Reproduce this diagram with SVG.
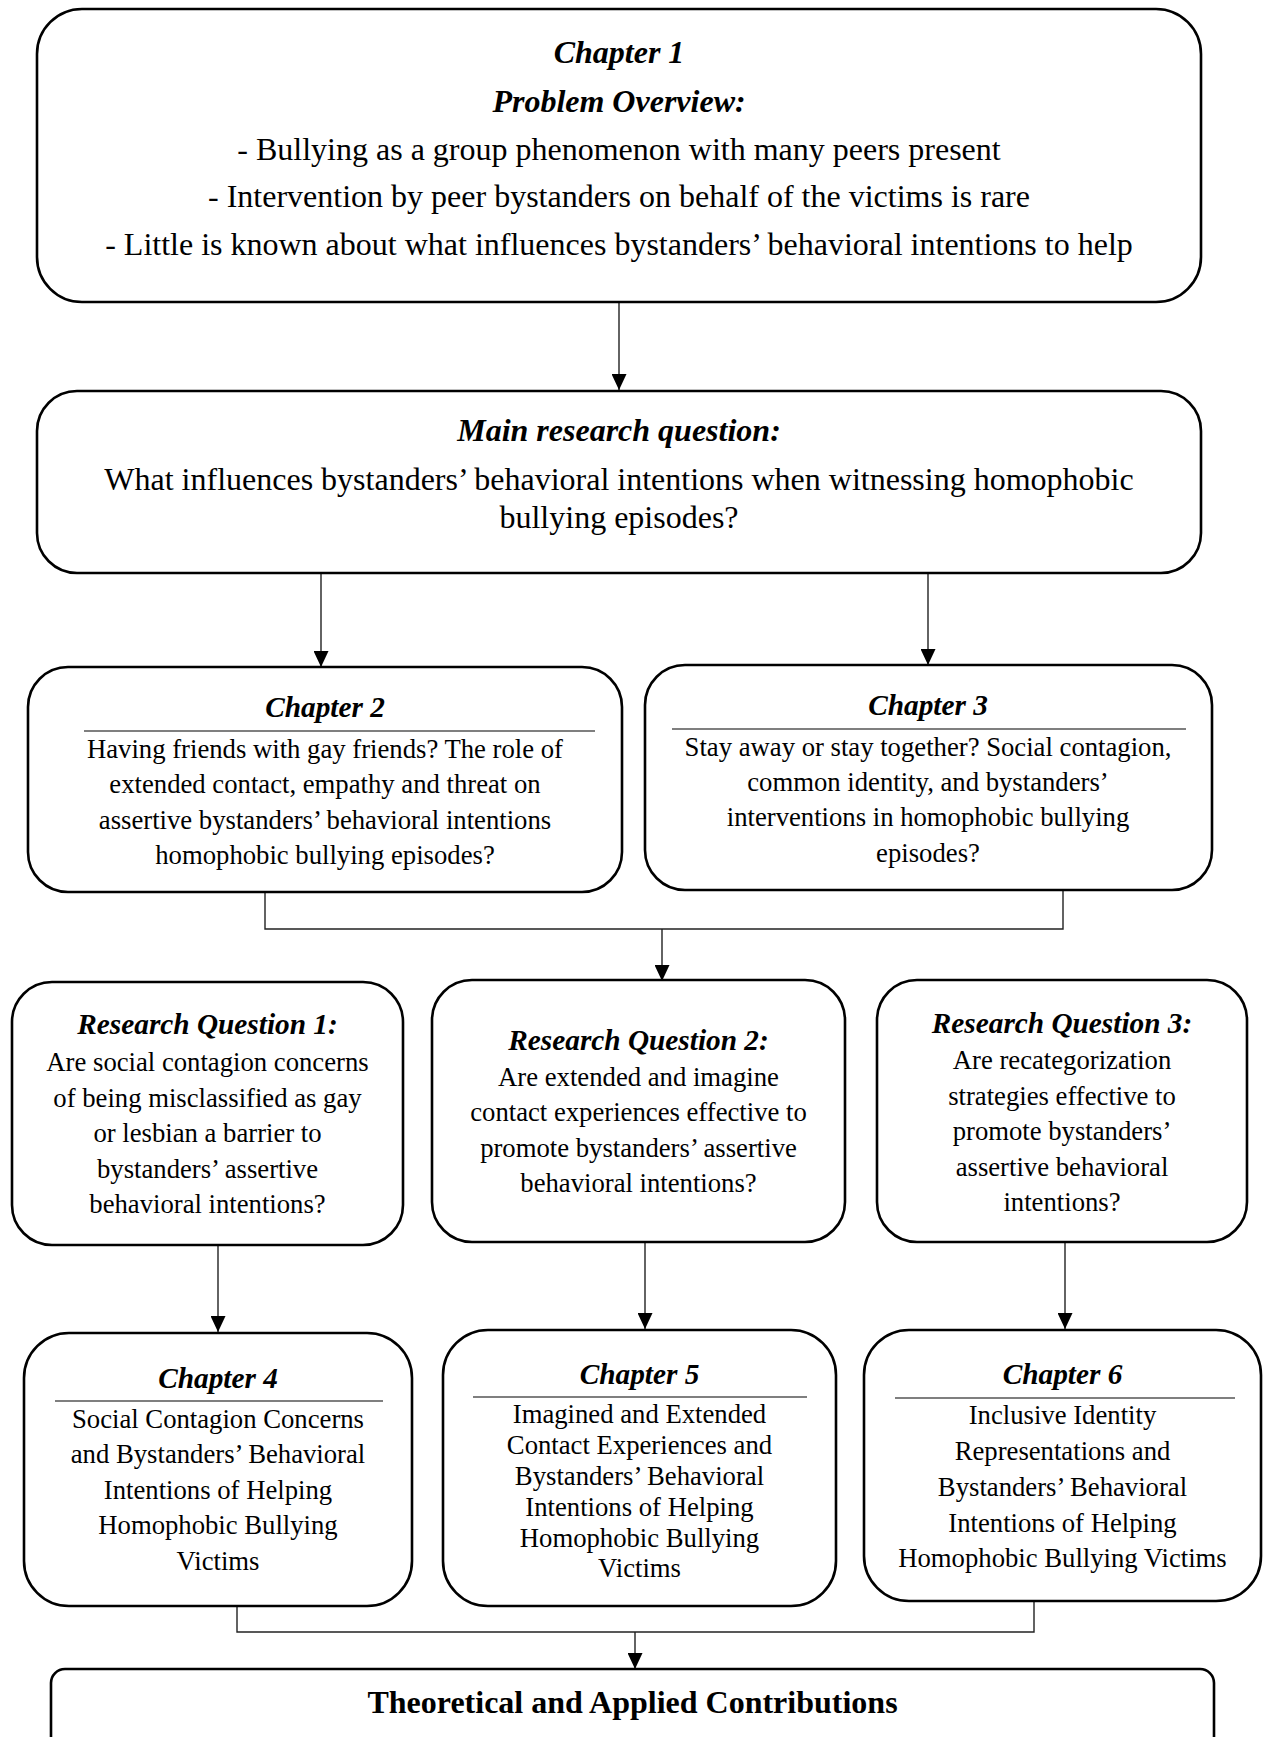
<svg xmlns="http://www.w3.org/2000/svg" width="1266" height="1737" viewBox="0 0 1266 1737">
<defs>
<marker id="arr" markerWidth="16" markerHeight="15" refX="16" refY="7.5" orient="auto" markerUnits="userSpaceOnUse" viewBox="0 0 16 15">
<path d="M0,0 L16,7.5 L0,15 Z" fill="#000"/>
</marker>
<style>
.box{fill:#fff;stroke:#000;stroke-width:2.6}
.sep{stroke:#7f7f7f;stroke-width:2}
.con{fill:none;stroke:#222;stroke-width:1.4}
.arrow{marker-end:url(#arr)}
text{font-family:"Liberation Serif","Times New Roman",serif;fill:#000;text-anchor:middle}
.t28{font-size:32px}
.bi{font-weight:bold;font-style:italic}
.b{font-weight:bold}
.t24{font-size:26.7px}
.h26{font-size:29.3px}
</style>
</defs>
<g id="connectors">
<line class="con arrow" x1="619" y1="302" x2="619" y2="390"/>
<line class="con arrow" x1="321" y1="573" x2="321" y2="667"/>
<line class="con arrow" x1="928" y1="573" x2="928" y2="665"/>
<polyline class="con" points="265,892 265,929 1063,929 1063,889"/>
<line class="con arrow" x1="662" y1="929" x2="662" y2="981"/>
<line class="con arrow" x1="218" y1="1245" x2="218" y2="1332"/>
<line class="con arrow" x1="645" y1="1242" x2="645" y2="1329"/>
<line class="con arrow" x1="1065" y1="1242" x2="1065" y2="1329"/>
<polyline class="con" points="237,1606 237,1632 1034,1632 1034,1601"/>
<line class="con arrow" x1="635" y1="1632" x2="635" y2="1669"/>
</g>
<g id="chapter1">
<rect class="box" x="37" y="9" width="1164" height="293" rx="45" ry="45"/>
<text class="t28 bi" x="619" y="63">Chapter 1</text>
<text class="t28 bi" x="619" y="112">Problem Overview:</text>
<text class="t28" x="619" y="160">- Bullying as a group phenomenon with many peers present</text>
<text class="t28" x="619" y="207">- Intervention by peer bystanders on behalf of the victims is rare</text>
<text class="t28" x="619" y="255">- Little is known about what influences bystanders’ behavioral intentions to help</text>
</g>
<g id="main-question">
<rect class="box" x="37" y="391" width="1164" height="182" rx="40" ry="40"/>
<text class="t28 bi" x="619" y="441">Main research question:</text>
<text class="t28" x="619" y="490">What influences bystanders’ behavioral intentions when witnessing homophobic</text>
<text class="t28" x="619" y="528">bullying episodes?</text>
</g>
<g id="chapter2">
<rect class="box" x="28" y="667" width="594" height="225" rx="40" ry="40"/>
<text class="h26 bi" x="325" y="717">Chapter 2</text>
<line class="sep" x1="84" y1="731" x2="595" y2="731"/>
<text class="t24" x="325" y="758">Having friends with gay friends? The role of</text>
<text class="t24" x="325" y="793">extended contact, empathy and threat on</text>
<text class="t24" x="325" y="829">assertive bystanders’ behavioral intentions</text>
<text class="t24" x="325" y="864">homophobic bullying episodes?</text>
</g>
<g id="chapter3">
<rect class="box" x="645" y="665" width="567" height="225" rx="40" ry="40"/>
<text class="h26 bi" x="928" y="715">Chapter 3</text>
<line class="sep" x1="672" y1="729" x2="1186" y2="729"/>
<text class="t24" x="928" y="756">Stay away or stay together? Social contagion,</text>
<text class="t24" x="928" y="791">common identity, and bystanders’</text>
<text class="t24" x="928" y="826">interventions in homophobic bullying</text>
<text class="t24" x="928" y="862">episodes?</text>
</g>
<g id="rq1">
<rect class="box" x="12" y="982" width="391" height="263" rx="40" ry="40"/>
<text class="h26 bi" x="207.5" y="1034">Research Question 1:</text>
<text class="t24" x="207.5" y="1071">Are social contagion concerns</text>
<text class="t24" x="207.5" y="1107">of being misclassified as gay</text>
<text class="t24" x="207.5" y="1142">or lesbian a barrier to</text>
<text class="t24" x="207.5" y="1178">bystanders’ assertive</text>
<text class="t24" x="207.5" y="1213">behavioral intentions?</text>
</g>
<g id="rq2">
<rect class="box" x="432" y="980" width="413" height="262" rx="40" ry="40"/>
<text class="h26 bi" x="638.5" y="1050">Research Question 2:</text>
<text class="t24" x="638.5" y="1086">Are extended and imagine</text>
<text class="t24" x="638.5" y="1121">contact experiences effective to</text>
<text class="t24" x="638.5" y="1157">promote bystanders’ assertive</text>
<text class="t24" x="638.5" y="1192">behavioral intentions?</text>
</g>
<g id="rq3">
<rect class="box" x="877" y="980" width="370" height="262" rx="40" ry="40"/>
<text class="h26 bi" x="1062" y="1033">Research Question 3:</text>
<text class="t24" x="1062" y="1069">Are recategorization</text>
<text class="t24" x="1062" y="1105">strategies effective to</text>
<text class="t24" x="1062" y="1140">promote bystanders’</text>
<text class="t24" x="1062" y="1176">assertive behavioral</text>
<text class="t24" x="1062" y="1211">intentions?</text>
</g>
<g id="chapter4">
<rect class="box" x="24" y="1333" width="388" height="273" rx="45" ry="45"/>
<text class="h26 bi" x="218" y="1388">Chapter 4</text>
<line class="sep" x1="55" y1="1401" x2="383" y2="1401"/>
<text class="t24" x="218" y="1428">Social Contagion Concerns</text>
<text class="t24" x="218" y="1463">and Bystanders’ Behavioral</text>
<text class="t24" x="218" y="1499">Intentions of Helping</text>
<text class="t24" x="218" y="1534">Homophobic Bullying</text>
<text class="t24" x="218" y="1570">Victims</text>
</g>
<g id="chapter5">
<rect class="box" x="443" y="1330" width="393" height="276" rx="45" ry="45"/>
<text class="h26 bi" x="639.5" y="1384">Chapter 5</text>
<line class="sep" x1="473" y1="1397" x2="807" y2="1397"/>
<text class="t24" x="639.5" y="1423">Imagined and Extended</text>
<text class="t24" x="639.5" y="1454">Contact Experiences and</text>
<text class="t24" x="639.5" y="1485">Bystanders’ Behavioral</text>
<text class="t24" x="639.5" y="1516">Intentions of Helping</text>
<text class="t24" x="639.5" y="1547">Homophobic Bullying</text>
<text class="t24" x="639.5" y="1577">Victims</text>
</g>
<g id="chapter6">
<rect class="box" x="864" y="1330" width="397" height="271" rx="45" ry="45"/>
<text class="h26 bi" x="1062.5" y="1384">Chapter 6</text>
<line class="sep" x1="895" y1="1398" x2="1235" y2="1398"/>
<text class="t24" x="1062.5" y="1424">Inclusive Identity</text>
<text class="t24" x="1062.5" y="1460">Representations and</text>
<text class="t24" x="1062.5" y="1496">Bystanders’ Behavioral</text>
<text class="t24" x="1062.5" y="1532">Intentions of Helping</text>
<text class="t24" x="1062.5" y="1567">Homophobic Bullying Victims</text>
</g>
<g id="contributions">
<rect class="box" x="51" y="1669" width="1163" height="100" rx="14" ry="14"/>
<text class="t28 b" x="632.5" y="1713">Theoretical and Applied Contributions</text>
</g>
</svg>
